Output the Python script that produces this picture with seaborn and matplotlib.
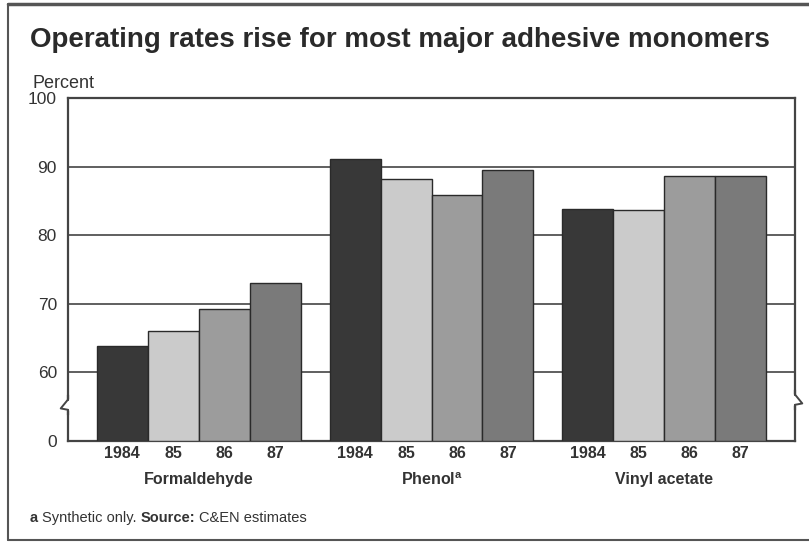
import matplotlib
matplotlib.use("Agg")
import matplotlib.pyplot as plt
import seaborn as sns
import pandas as pd
import matplotlib.transforms as mtrans
from matplotlib.lines import Line2D
from matplotlib.patches import Rectangle

# ---- data ----
products = ["Formaldehyde", "Phenol", "Vinyl acetate"]
years = ["1984", "85", "86", "87"]
formaldehyde = [63.9, 66.1, 69.2, 73.0]
phenol = [91.1, 88.2, 85.9, 89.5]
vinyl_acetate = [83.8, 83.7, 88.6, 88.6]
ytick_labels = ["0", "60", "70", "80", "90", "100"]
ytick_values = [50, 60, 70, 80, 90, 100]  # 50 is the broken-axis base shown as "0"
colors = ["#383838", "#cbcbcb", "#9c9c9c", "#7a7a7a"]

BASE = 50
rows = []
for prod, vals in zip(products, [formaldehyde, phenol, vinyl_acetate]):
    for yr, v in zip(years, vals):
        rows.append({"product": prod, "year": yr, "value": v, "shown": v - BASE})
df = pd.DataFrame(rows)

sns.set_style("white")
plt.rcParams["font.family"] = ["Liberation Sans", "DejaVu Sans"]
plt.rcParams["mathtext.fontset"] = "custom"
plt.rcParams["mathtext.rm"] = "Liberation Sans"
plt.rcParams["mathtext.bf"] = "Liberation Sans:bold"

W, H = 809, 544
fig = plt.figure(figsize=(W / 100, H / 100), dpi=100)
fig.patch.set_facecolor("white")

ax_l, ax_r, ax_t, ax_b = 68, 795, 98, 441
ax = fig.add_axes([ax_l / W, 1 - ax_b / H, (ax_r - ax_l) / W, (ax_b - ax_t) / H])

sns.barplot(data=df, x="product", y="shown", hue="year", hue_order=years,
            palette=colors, width=0.876, edgecolor="#2a2a2a", linewidth=1.0,
            saturation=1, legend=False, ax=ax, zorder=3)

ax.set_xlim(-0.562, 2.562)
ax.set_ylim(0, 50)
ax.set_yticks([v - BASE for v in ytick_values])
ax.set_yticklabels(ytick_labels, fontsize=12.5, color="#333333")
ax.tick_params(axis="y", length=0, pad=8)
for v in ytick_values[1:-1]:
    ax.axhline(v - BASE, color="#444444", lw=1.2, zorder=1)

for s in ax.spines.values():
    s.set_color("#444444")
    s.set_linewidth(1.6)

# x tick labels: group names
ax.set_xticks([0, 1, 2])
ax.set_xticklabels(["Formaldehyde", r"$\mathbf{Phenol}^{\mathbf{a}}$", "Vinyl acetate"],
                   fontsize=11.5, fontweight="bold", color="#333333")
ax.tick_params(axis="x", length=0, pad=22)
ax.set_xlabel("")
ax.set_ylabel("")

# year labels under each bar
trans = mtrans.blended_transform_factory(ax.transData, ax.transAxes)
bars = [p for p in ax.patches if p.get_height() > 0]
bars.sort(key=lambda p: p.get_x())
for i, p in enumerate(bars):
    ax.text(p.get_x() + p.get_width() / 2, -0.037, years[i % 4], transform=trans,
            ha="center", va="center", fontsize=11.5, fontweight="bold", color="#333333")

# axis break marks
def break_mark(xa, ya, direction):
    t = ax.transAxes
    ax.add_patch(Rectangle((xa - 0.01, ya - 0.018), 0.02, 0.036, transform=t,
                           facecolor="white", edgecolor="none", zorder=5, clip_on=False))
    d = direction
    ax.add_line(Line2D([xa, xa], [ya - 0.03, ya - 0.014], transform=t, color="#444444",
                       lw=1.6, zorder=6, clip_on=False))
    ax.add_line(Line2D([xa, xa - d * 0.010, xa], [ya - 0.014, ya - 0.010, ya + 0.016],
                       transform=t, color="#444444", lw=1.4, zorder=6, clip_on=False))
    ax.add_line(Line2D([xa, xa], [ya + 0.016, ya + 0.03], transform=t, color="#444444",
                       lw=1.6, zorder=6, clip_on=False))

break_mark(0.0, (ax_b - 405) / (ax_b - ax_t), 1)
break_mark(1.0, (ax_b - 400) / (ax_b - ax_t), -1)

# title and labels
fig.text(30 / W, 1 - 40 / H, "Operating rates rise for most major adhesive monomers",
         fontsize=20, fontweight="bold", color="#2a2a2a", va="center", ha="left")
fig.text(33 / W, 1 - 83 / H, "Percent", fontsize=13, color="#333333", va="center", ha="left")

# footnote with mixed weights
renderer = fig.canvas.get_renderer()
pieces = [("a", "bold", 4), ("Synthetic only.", "normal", 4), ("Source:", "bold", 4),
          ("C&EN estimates", "normal", 0)]
x = 30 / W
for txt, wt, gap in pieces:
    t = fig.text(x, 1 - 518 / H, txt, fontsize=10.5, fontweight=wt, color="#333333",
                 va="center", ha="left")
    bb = t.get_window_extent(renderer=renderer)
    x = x + (bb.width + gap) / W

# outer frame (left, top, bottom)
fig.add_artist(Line2D([8 / W, 8 / W], [1 - 4 / H, 1 - 540 / H], transform=fig.transFigure,
                      color="#555555", lw=1.5))
fig.add_artist(Line2D([8 / W, 1], [1 - 4 / H, 1 - 4 / H], transform=fig.transFigure,
                      color="#555555", lw=2.5))
fig.add_artist(Line2D([8 / W, 1], [1 - 540 / H, 1 - 540 / H], transform=fig.transFigure,
                      color="#555555", lw=1.5))

fig.savefig("out.png", dpi=100)
